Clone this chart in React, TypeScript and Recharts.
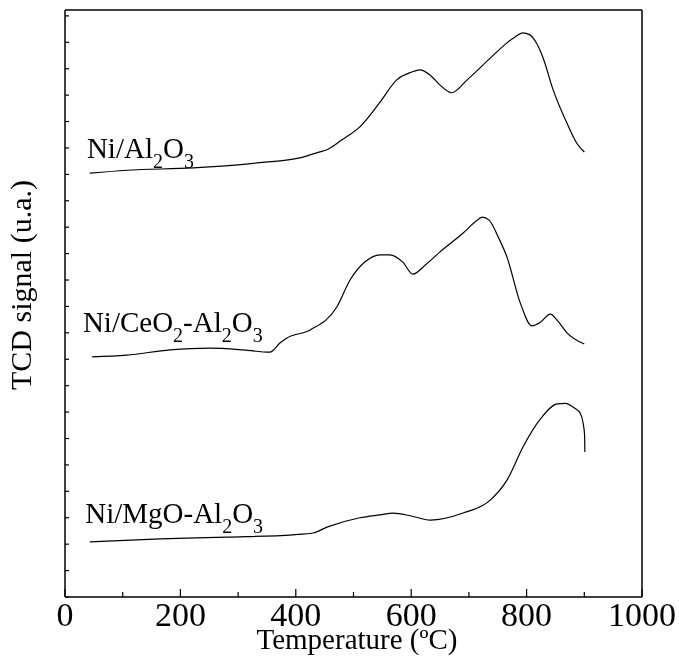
import React from "react";
import { Line, LineChart, ReferenceDot, XAxis, YAxis } from "recharts";

const FONT = '"Liberation Serif", "Times New Roman", serif';

// Ni/Al2O3
const tempAl = [43, 107, 222, 338, 407, 440, 454, 480, 511, 546, 575, 600, 615, 633, 650, 670, 697, 737, 766, 780, 793, 805, 818, 828, 846, 870, 887, 900];
const signalAl = [72.2, 72.7, 73.1, 74.0, 74.8, 75.8, 76.2, 77.9, 80.1, 84.3, 88.1, 89.4, 89.8, 88.9, 87.2, 85.9, 88.1, 91.8, 94.4, 95.4, 96.1, 95.8, 94.2, 92.0, 86.4, 80.7, 77.3, 75.8];

// Ni/CeO2-Al2O3
const tempCe = [47, 107, 182, 251, 309, 355, 373, 384, 425, 471, 494, 520, 546, 563, 585, 603, 625, 650, 690, 712, 723, 735, 750, 766, 789, 809, 825, 841, 855, 870, 900];
const signalCe = [40.9, 41.2, 42.1, 42.4, 42.1, 41.7, 43.3, 44.1, 45.5, 49.4, 54.0, 57.1, 58.3, 58.3, 57.1, 55.0, 56.6, 58.8, 62.0, 64.0, 64.7, 64.2, 61.5, 57.9, 50.1, 46.2, 46.9, 48.2, 46.9, 45.0, 43.1];

// Ni/MgO-Al2O3
const tempMg = [43, 165, 281, 395, 430, 454, 511, 546, 569, 600, 633, 690, 737, 766, 794, 823, 853, 867, 883, 893, 898, 900.5, 901];
const signalMg = [9.4, 9.9, 10.2, 10.6, 10.9, 11.9, 13.5, 14.0, 14.3, 13.8, 13.1, 14.3, 16.5, 19.9, 25.6, 30.2, 32.9, 33.0, 32.2, 31.3, 29.6, 27.6, 24.7];

const xTicks = [0, 100, 200, 300, 400, 500, 600, 700, 800, 900, 1000];
const xLabelTicks = [0, 200, 400, 600, 800, 1000];
const yTicks = [0, 4.5, 9, 13.5, 18, 22.5, 27, 31.5, 36, 40.5, 45, 49.5, 54, 58.5, 63, 67.5, 72, 76.5, 81, 85.5, 90, 94.5, 99];

// series labels: [text, subscript?]
const labelAl: [string, boolean][] = [["Ni/Al", false], ["2", true], ["O", false], ["3", true]];
const labelCe: [string, boolean][] = [["Ni/CeO", false], ["2", true], ["-Al", false], ["2", true], ["O", false], ["3", true]];
const labelMg: [string, boolean][] = [["Ni/MgO-Al", false], ["2", true], ["O", false], ["3", true]];
const labelTemps = [38, 31, 35];
const labelSignals = [74.8, 45.1, 12.6];

const zip = (t: number[], s: number[]) => t.map((v, i) => ({ t: v, s: s[i] }));
const dataAl = zip(tempAl, signalAl);
const dataCe = zip(tempCe, signalCe);
const dataMg = zip(tempMg, signalMg);

const BottomTick = (props: any) => {
  const { x, y, payload } = props;
  const major = xLabelTicks.includes(payload.value);
  return (
    <g>
      <line x1={x} x2={x} y1={y} y2={y - (major ? 8 : 5)} stroke="#000" strokeWidth={1.2} />
      {major && (
        <text x={x} y={y + 29} textAnchor="middle" fontSize={34} fontFamily={FONT} fill="#000">
          {payload.value}
        </text>
      )}
    </g>
  );
};

const TopTick = (props: any) => {
  const { x, y, payload } = props;
  const major = xLabelTicks.includes(payload.value);
  return <line x1={x} x2={x} y1={y} y2={y + (major ? 6 : 4)} stroke="#000" strokeWidth={1.2} />;
};

const LeftTick = (props: any) => {
  const { x, y } = props;
  return <line x1={x} x2={x + 4} y1={y} y2={y} stroke="#000" strokeWidth={1.2} />;
};

const RightTick = (props: any) => {
  const { x, y } = props;
  return <line x1={x} x2={x - 4} y1={y} y2={y} stroke="#000" strokeWidth={1.2} />;
};

const SeriesLabel = ({ viewBox, parts }: any) => {
  const x = viewBox.x + (viewBox.width || 0) / 2;
  const y = viewBox.y + (viewBox.height || 0) / 2;
  let down = false;
  return (
    <text x={x} y={y} fontSize={29} fontFamily={FONT} fill="#000">
      {parts.map(([txt, sub]: [string, boolean], i: number) => {
        const dy = sub && !down ? 10 : !sub && down ? -10 : 0;
        down = sub;
        return (
          <tspan key={i} dy={dy} fontSize={sub ? 20 : 29}>
            {txt}
          </tspan>
        );
      })}
    </text>
  );
};

const axisLine = { stroke: "#000", strokeWidth: 1.5 };

export default function App() {
  const labels = [labelAl, labelCe, labelMg];
  return (
    <div style={{ position: "fixed", left: 0, top: 0, width: 679, height: 656 }}>
      <LineChart width={679} height={656} margin={{ top: 8, right: 0, bottom: 0, left: 0 }}>
        <XAxis
          xAxisId="bottom"
          dataKey="t"
          type="number"
          domain={[0, 1000]}
          ticks={xTicks}
          interval={0}
          height={59}
          tickSize={0}
          tickMargin={0}
          tickLine={false}
          axisLine={axisLine}
          tick={<BottomTick />}
          allowDuplicatedCategory={false}
          label={{
            content: () => (
              <text x={357} y={649} textAnchor="middle" fontSize={29} fontFamily={FONT} fill="#000">
                Temperature (ºC)
              </text>
            ),
          }}
        />
        <XAxis
          xAxisId="top"
          orientation="top"
          type="number"
          domain={[0, 1000]}
          ticks={xTicks}
          interval={0}
          height={2}
          tickSize={0}
          tickMargin={0}
          tickLine={false}
          axisLine={axisLine}
          tick={<TopTick />}
        />
        <YAxis
          yAxisId="left"
          type="number"
          domain={[0, 100]}
          ticks={yTicks}
          interval={0}
          width={65}
          tickSize={0}
          tickMargin={0}
          tickLine={false}
          axisLine={axisLine}
          tick={<LeftTick />}
          label={{
            content: () => (
              <text
                transform="translate(31,285) rotate(-90)"
                textAnchor="middle"
                fontSize={30}
                fontFamily={FONT}
                fill="#000"
              >
                TCD signal (u.a.)
              </text>
            ),
          }}
        />
        <YAxis
          yAxisId="right"
          orientation="right"
          type="number"
          domain={[0, 100]}
          ticks={yTicks}
          interval={0}
          width={37}
          tickSize={0}
          tickMargin={0}
          tickLine={false}
          axisLine={axisLine}
          tick={<RightTick />}
        />
        <Line data={dataAl} dataKey="s" xAxisId="bottom" yAxisId="left" type="monotone" stroke="#000" strokeWidth={1.2} dot={false} isAnimationActive={false} />
        <Line data={dataCe} dataKey="s" xAxisId="bottom" yAxisId="left" type="monotone" stroke="#000" strokeWidth={1.2} dot={false} isAnimationActive={false} />
        <Line data={dataMg} dataKey="s" xAxisId="bottom" yAxisId="left" type="monotone" stroke="#000" strokeWidth={1.2} dot={false} isAnimationActive={false} />
        {labels.map((parts, i) => (
          <ReferenceDot
            key={i}
            xAxisId="bottom"
            yAxisId="left"
            x={labelTemps[i]}
            y={labelSignals[i]}
            r={0}
            fill="none"
            stroke="none"
            ifOverflow="visible"
            label={{ content: (p: any) => <SeriesLabel viewBox={p.viewBox} parts={parts} /> }}
          />
        ))}
      </LineChart>
    </div>
  );
}
